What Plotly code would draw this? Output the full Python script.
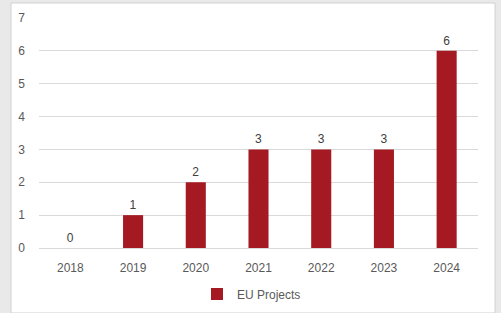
import plotly.graph_objects as go

years = ["2018", "2019", "2020", "2021", "2022", "2023", "2024"]
projects = [0, 1, 2, 3, 3, 3, 6]
series_name = "EU Projects"

L, R, T, B = 39, 23, 18, 65
W, H = 501, 313
pw, ph = W - L - R, H - T - B

def fx(px):
    return (px - L) / pw

def fy(py):
    return (H - B - py) / ph

fig = go.Figure()
fig.add_trace(go.Bar(
    x=years, y=projects, name=series_name,
    marker=dict(color="#A51A22", line=dict(width=0)),
    text=[str(v) for v in projects], textposition="outside",
    textfont=dict(color="#404040", size=12, family="Liberation Sans"),
    cliponaxis=False,
))

fig.update_layout(
    width=W, height=H,
    margin=dict(l=L, r=R, t=T, b=B, autoexpand=False),
    paper_bgcolor="#e9e9e9",
    plot_bgcolor="white",
    bargap=0.68,
    font=dict(family="Liberation Sans", size=12, color="#595959"),
    showlegend=True,
    legend=dict(orientation="h", x=fx(197), xanchor="left", y=fy(294), yanchor="middle",
                font=dict(size=12, color="#595959"), bgcolor="rgba(0,0,0,0)",
                itemwidth=30),
    xaxis=dict(showgrid=False, showline=True, linecolor="#d9d9d9", linewidth=1,
               ticks="", ticklabelstandoff=9, automargin=False,
               tickfont=dict(size=12, color="#595959")),
    yaxis=dict(range=[0, 7], dtick=1, showgrid=True, gridcolor="#d9d9d9", gridwidth=1,
               zeroline=False, showline=False, ticks="", ticklabelstandoff=13,
               automargin=False,
               tickfont=dict(size=12, color="#595959")),
    shapes=[dict(type="rect", xref="paper", yref="paper",
                 x0=fx(11), x1=fx(495), y0=fy(313), y1=fy(3),
                 fillcolor="white", line=dict(color="#d0d0d0", width=1), layer="below")],
)

fig.write_html("out.html", config={"displayModeBar": False},
               post_script="document.body.style.margin='0';document.body.style.background='#e9e9e9';")
